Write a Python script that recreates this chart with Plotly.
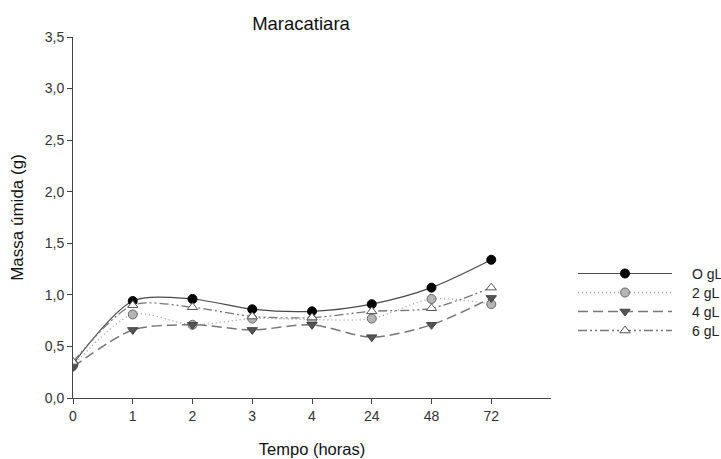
import plotly.graph_objects as go

categories = ["0", "1", "2", "3", "4", "24", "48", "72"]
g0 = [0.33, 0.94, 0.96, 0.86, 0.84, 0.91, 1.07, 1.34]
g2 = [0.31, 0.81, 0.71, 0.77, 0.76, 0.77, 0.96, 0.91]
g4 = [0.30, 0.66, 0.71, 0.66, 0.71, 0.59, 0.71, 0.97]
g6 = [0.35, 0.90, 0.88, 0.79, 0.78, 0.84, 0.87, 1.07]
names = ["O gL", "2 gL", "4 gL", "6 gL"]

xs = list(range(len(categories)))

styles = [
    dict(line=dict(color="#4a4a4a", width=1.2, dash="solid"),
         marker=dict(symbol="circle", size=9, color="black", line=dict(color="black", width=1))),
    dict(line=dict(color="#9a9a9a", width=1.3, dash="1px,3px"),
         marker=dict(symbol="circle", size=9, color="#b4b4b4", line=dict(color="#666", width=1))),
    dict(line=dict(color="#777777", width=1.5, dash="10px,5px"),
         marker=dict(symbol="triangle-down", size=9, color="#555555", line=dict(color="#444", width=1))),
    dict(line=dict(color="#777777", width=1.3, dash="9px,3px,2px,3px,2px,3px"),
         marker=dict(symbol="triangle-up", size=9, color="white", line=dict(color="#555", width=1))),
]

W, H = 721, 459
L, T, B = 73, 37, 61
PW = W - L
PH = H - T - B

fig = go.Figure()
for ys, nm, st in zip([g0, g2, g4, g6], names, styles):
    fig.add_trace(go.Scatter(x=xs, y=ys, mode="lines+markers", name=nm,
                             line=dict(shape="spline", smoothing=0.8, **st["line"]),
                             marker=st["marker"], showlegend=False))

# custom legend on hidden axes
leg_top, leg_bot = 264, 340
for i, (nm, st) in enumerate(zip(names, styles)):
    fig.add_trace(go.Scatter(x=[0, 0.5, 1], y=[-i, -i, -i], mode="lines", line=st["line"],
                             xaxis="x2", yaxis="y2", showlegend=False, hoverinfo="skip"))
    fig.add_trace(go.Scatter(x=[0.5], y=[-i], mode="markers", marker=st["marker"],
                             xaxis="x2", yaxis="y2", showlegend=False, hoverinfo="skip"))
    row_px = leg_top + (0.5 + i) * (leg_bot - leg_top) / 4
    fig.add_annotation(x=(692 - L) / PW, y=(398 - row_px) / PH, xref="paper", yref="paper",
                       text=nm, showarrow=False, xanchor="left", yanchor="middle",
                       xshift=-2, font=dict(size=14, color="#222"))

font = "Liberation Sans, Arial, sans-serif"
fig.update_layout(
    width=W, height=H,
    margin=dict(l=L, r=0, t=T, b=B),
    paper_bgcolor="white", plot_bgcolor="white",
    font=dict(family=font, size=14, color="#222"),
    title=dict(text="Maracatiara", x=301 / W, xanchor="center",
               y=1 - 24 / H, yanchor="middle", font=dict(size=18.5, color="#111")),
    xaxis=dict(domain=[0, (551 - L) / PW], range=[0, 8], tickvals=xs, ticktext=categories,
               showgrid=False, zeroline=False,
               showline=True, linecolor="#444", linewidth=1, ticks="outside", ticklen=5,
               tickcolor="#444", tickfont=dict(size=14, color="#333"),
               title=dict(text="Tempo (horas)", font=dict(size=16.5, color="#111"), standoff=20)),
    yaxis=dict(range=[0, 3.5], tickvals=[0, 0.5, 1, 1.5, 2, 2.5, 3, 3.5],
               ticktext=["0,0", "0,5", "1,0", "1,5", "2,0", "2,5", "3,0", "3,5"],
               showgrid=False, zeroline=False, showline=True, linecolor="#444", linewidth=1,
               ticks="outside", ticklen=5, tickcolor="#444", tickfont=dict(size=14, color="#333"),
               title=dict(text="Massa úmida (g)", font=dict(size=17, color="#111"), standoff=16)),
    xaxis2=dict(domain=[(578 - L) / PW, (672 - L) / PW], range=[0, 1], visible=False, anchor="y2"),
    yaxis2=dict(domain=[(398 - leg_bot) / PH, (398 - leg_top) / PH], range=[-3.5, 0.5],
                visible=False, anchor="x2"),
)

fig.write_html("out.html")
